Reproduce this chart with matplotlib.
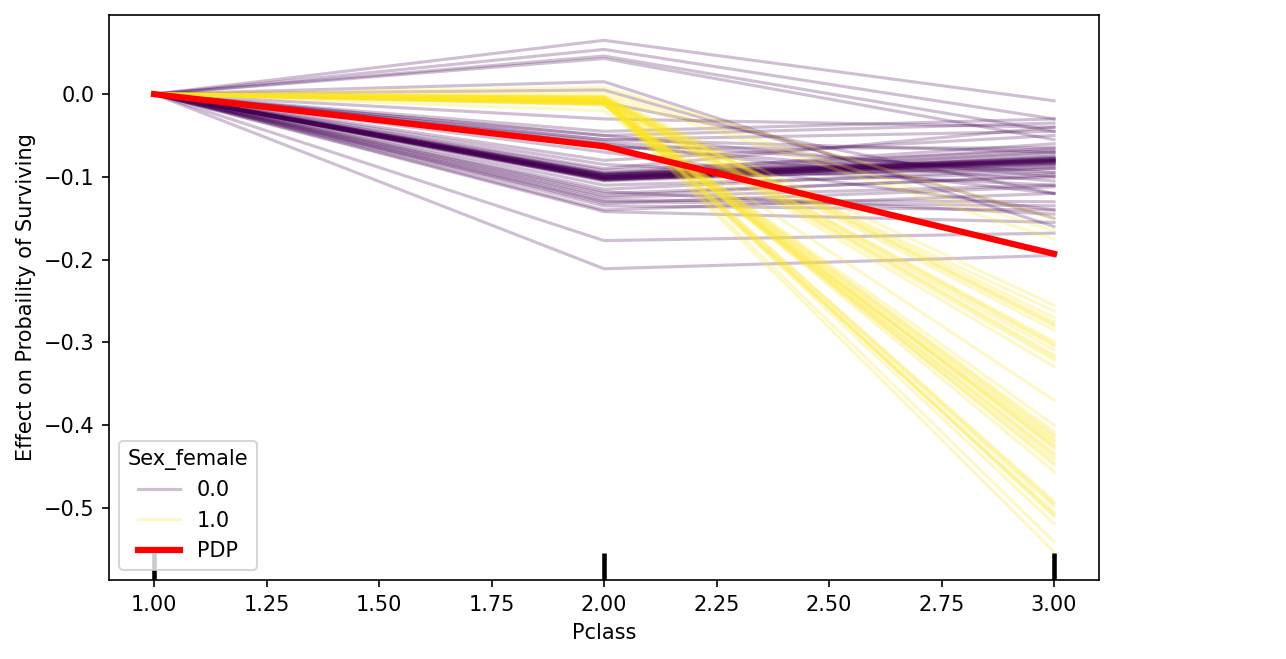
import matplotlib
matplotlib.use("Agg")
import matplotlib.pyplot as plt
from matplotlib.lines import Line2D

# Pclass grid
pclass = [1, 2, 3]

# ICE curves for Sex_female = 0 (value at Pclass 2, value at Pclass 3); all start at 0
male_p2 = [0.065, 0.054, 0.046, 0.043, 0.015, 0.005, -0.010, -0.030, -0.045,
           -0.050, -0.055, -0.060, -0.065, -0.070, -0.080, -0.085,
           -0.095, -0.097, -0.098, -0.100, -0.100, -0.101, -0.102, -0.103,
           -0.104, -0.105, -0.100, -0.098, -0.096, -0.102,
           -0.099, -0.101, -0.103, -0.097, -0.100, -0.102, -0.104, -0.098,
           -0.100, -0.101, -0.096, -0.103,
           -0.050, -0.055, -0.058, -0.062, -0.090, -0.092,
           -0.110, -0.115, -0.120, -0.125, -0.128, -0.130, -0.135, -0.140,
           -0.142, -0.118, -0.123, -0.132, -0.177, -0.211]
male_p3 = [-0.008, -0.030, -0.045, -0.055, -0.160, -0.150, -0.120, -0.040, -0.030,
           -0.100, -0.070, -0.120, -0.065, -0.140, -0.050, -0.110,
           -0.080, -0.078, -0.082, -0.080, -0.085, -0.076, -0.083, -0.079,
           -0.081, -0.086, -0.070, -0.065, -0.060, -0.090,
           -0.080, -0.082, -0.079, -0.081, -0.078, -0.084, -0.080, -0.077,
           -0.083, -0.075, -0.072, -0.088,
           -0.035, -0.045, -0.095, -0.105, -0.040, -0.068,
           -0.095, -0.090, -0.100, -0.110, -0.130, -0.135, -0.140, -0.120,
           -0.155, -0.145, -0.098, -0.112, -0.168, -0.195]

# ICE curves for Sex_female = 1
female_p2 = [0.008, 0.002, -0.002, -0.003, -0.004, -0.005, -0.005, -0.006, -0.006,
             -0.007, -0.007, -0.008, -0.008, -0.009, -0.009, -0.010, -0.010,
             -0.011, -0.011, -0.012, -0.012, -0.013, -0.013, -0.004, -0.006,
             -0.008, -0.010, -0.012, -0.005, -0.007, -0.009, -0.011, -0.020,
             -0.003, -0.005, -0.007, -0.009, -0.011, -0.006, -0.008, -0.010,
             -0.004, -0.012]
female_p3 = [-0.150, -0.165, -0.175, -0.255, -0.270, -0.275, -0.280, -0.285, -0.299,
             -0.304, -0.309, -0.315, -0.321, -0.329, -0.370, -0.400, -0.408,
             -0.414, -0.418, -0.424, -0.428, -0.434, -0.440, -0.448, -0.456,
             -0.492, -0.498, -0.505, -0.510, -0.519, -0.541, -0.553, -0.420,
             -0.278, -0.302, -0.412, -0.426, -0.436, -0.495, -0.508, -0.262,
             -0.318, -0.445]

# partial dependence (average)
pdp = [0.0, -0.063, -0.193]

purple = "#440154"
yellow = "#fde725"

fig = plt.figure(figsize=(1286 / 150, 659 / 150), dpi=150)
ax = fig.add_axes([0.0848, 0.120, 0.7698, 0.857])

for a, b in zip(male_p2, male_p3):
    ax.plot(pclass, [0.0, a, b], color=purple, alpha=0.25, lw=1.5)
for a, b in zip(female_p2, female_p3):
    ax.plot(pclass, [0.0, a, b], color=yellow, alpha=0.25, lw=1.5)

ax.plot(pclass, pdp, color="red", lw=3, zorder=5)

# rug of observed Pclass values
ax.vlines(pclass, 0, 0.048, color="black", lw=2.2, transform=ax.get_xaxis_transform(), zorder=4)

ax.set_xlim(0.9, 3.1)
ax.set_ylim(-0.587, 0.0954)
ax.set_xticks([1.0, 1.25, 1.5, 1.75, 2.0, 2.25, 2.5, 2.75, 3.0])
ax.set_xticklabels(["1.00", "1.25", "1.50", "1.75", "2.00", "2.25", "2.50", "2.75", "3.00"])
ax.set_yticks([0.0, -0.1, -0.2, -0.3, -0.4, -0.5])
ax.set_xlabel("Pclass")
ax.set_ylabel("Effect on Probaility of Surviving")

handles = [Line2D([], [], color=purple, alpha=0.25, lw=1.5),
           Line2D([], [], color=yellow, alpha=0.25, lw=1.5),
           Line2D([], [], color="red", lw=3)]
leg = ax.legend(handles, ["0.0", "1.0", "PDP"], title="Sex_female", loc="lower left")
leg.set_zorder(10)

fig.savefig("out.png", dpi=150)
